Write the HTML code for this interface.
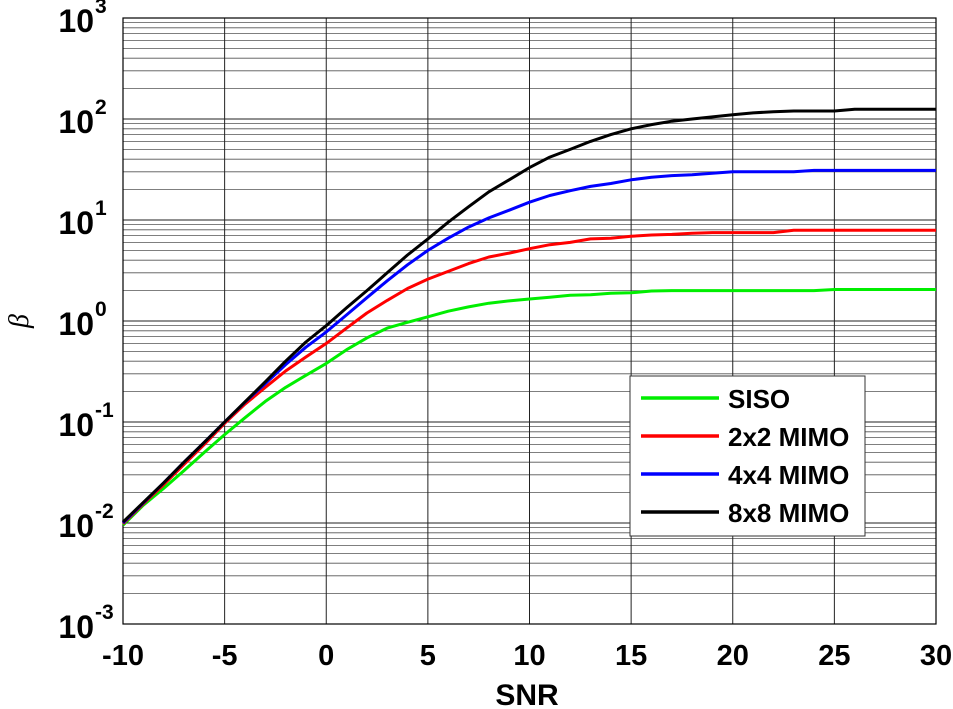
<!DOCTYPE html>
<html><head><meta charset="utf-8"><style>
html,body{margin:0;padding:0;background:#fff;}
svg{display:block;font-family:"Liberation Sans",Arial,sans-serif;font-weight:bold;}
</style></head><body>
<svg id="chart" width="953" height="709" viewBox="0 0 953 709" xmlns="http://www.w3.org/2000/svg"></svg>
<script>
const snr = [-10,-9,-8,-7,-6,-5,-4,-3,-2,-1,0,1,2,3,4,5,6,7,8,9,10,11,12,13,14,15,16,17,18,19,20,21,22,23,24,25,26,27,28,29,30];
const siso = [0.0095,0.015,0.022,0.033,0.05,0.075,0.11,0.16,0.22,0.29,0.38,0.52,0.68,0.85,0.97,1.1,1.25,1.38,1.5,1.58,1.65,1.72,1.8,1.82,1.88,1.9,1.98,2.0,2.0,2.0,2.0,2.0,2.0,2.0,2.0,2.05,2.05,2.05,2.05,2.05,2.05];
const mimo2 = [0.0098,0.0155,0.024,0.038,0.06,0.097,0.15,0.22,0.32,0.44,0.6,0.85,1.2,1.6,2.1,2.6,3.1,3.7,4.3,4.7,5.2,5.7,6.0,6.5,6.6,6.9,7.1,7.2,7.4,7.5,7.5,7.5,7.5,7.9,7.9,7.9,7.9,7.9,7.9,7.9,7.9];
const mimo4 = [0.01,0.0158,0.025,0.04,0.063,0.1,0.157,0.24,0.37,0.55,0.78,1.15,1.7,2.5,3.6,5.0,6.6,8.5,10.5,12.5,15,17.5,19.5,21.5,23,25,26.5,27.5,28,29,30,30,30,30,31,31,31,31,31,31,31];
const mimo8 = [0.0102,0.016,0.025,0.04,0.063,0.1,0.158,0.25,0.4,0.62,0.9,1.35,2.0,3.0,4.5,6.5,9.5,13.5,19,25,33,42,50,60,70,80,88,95,100,105,110,115,118,120,120,120,125,125,125,125,125];
const seriesNames = ["SISO","2x2 MIMO","4x4 MIMO","8x8 MIMO"];
const xTicks = [-10,-5,0,5,10,15,20,25,30];
const yExps = [-3,-2,-1,0,1,2,3];

const svg = document.getElementById('chart');
const NS = 'http://www.w3.org/2000/svg';
const L=123,R=936,T=18,B=624;
const xs = v => L + (v+10)/40*(R-L);
const ys = v => B - (Math.log10(v)+3)/6*(B-T);
function el(tag, attrs, parent){const e=document.createElementNS(NS,tag);for(const k in attrs)e.setAttribute(k,attrs[k]);(parent||svg).appendChild(e);return e;}

const grid = el('g',{});


for(let e=-3;e<3;e++){for(let m=2;m<=9;m++){const y=ys(m*Math.pow(10,e));el('line',{x1:L,x2:R,y1:y,y2:y,stroke:'#555','stroke-width':0.8},grid);}}
yExps.forEach(e=>{const y=ys(Math.pow(10,e));el('line',{x1:L,x2:R,y1:y,y2:y,stroke:'#222','stroke-width':1},grid);});
xTicks.forEach(v=>{const x=xs(v);el('line',{x1:x,x2:x,y1:T,y2:B,stroke:'#222','stroke-width':1},grid);});
el('rect',{x:L,y:T,width:R-L,height:B-T,fill:'none',stroke:'#000','stroke-width':1.2});

xTicks.forEach(v=>{const t=el('text',{x:xs(v),y:665,'text-anchor':'middle','font-size':29});t.textContent=v;

});
yExps.forEach(e=>{const t=el('text',{x:94,y:ys(Math.pow(10,e))+14,'text-anchor':'end','font-size':32});


t.textContent='10';
const s=el('text',{x:95,y:ys(Math.pow(10,e))-5,'text-anchor':'start','font-size':21});


s.textContent=String(e);});
const xt=el('text',{x:527,y:705,'text-anchor':'middle','font-size':30});xt.textContent='SNR';


const yt=el('text',{x:28,y:321,'text-anchor':'middle','font-size':28,'font-style':'italic','font-weight':'normal','font-family':'Liberation Serif,serif',transform:'rotate(-90 28 321)'});yt.textContent='β';



const allSeries=[siso,mimo2,mimo4,mimo8];
const colors=['#00ee00','#ff0000','#0000ff','#000000'];
allSeries.forEach((s,i)=>{const d=s.map((v,j)=>(j?'L':'M')+xs(snr[j]).toFixed(1)+','+ys(v).toFixed(1)).join(' ');
const p=el('path',{d:d,fill:'none',stroke:colors[i],'stroke-width':3,'stroke-linejoin':'round'});

});

const lg=el('g',{});


el('rect',{x:630,y:376,width:235,height:160,fill:'#fff',stroke:'#333','stroke-width':1},lg);
seriesNames.forEach((n,i)=>{const y=398+i*38;
el('line',{x1:641,x2:719,y1:y,y2:y,stroke:colors[i],'stroke-width':3.5},lg);
const t=el('text',{x:728,y:y+10,'font-size':26},lg);t.textContent=n;

});
</script>
</body></html>
